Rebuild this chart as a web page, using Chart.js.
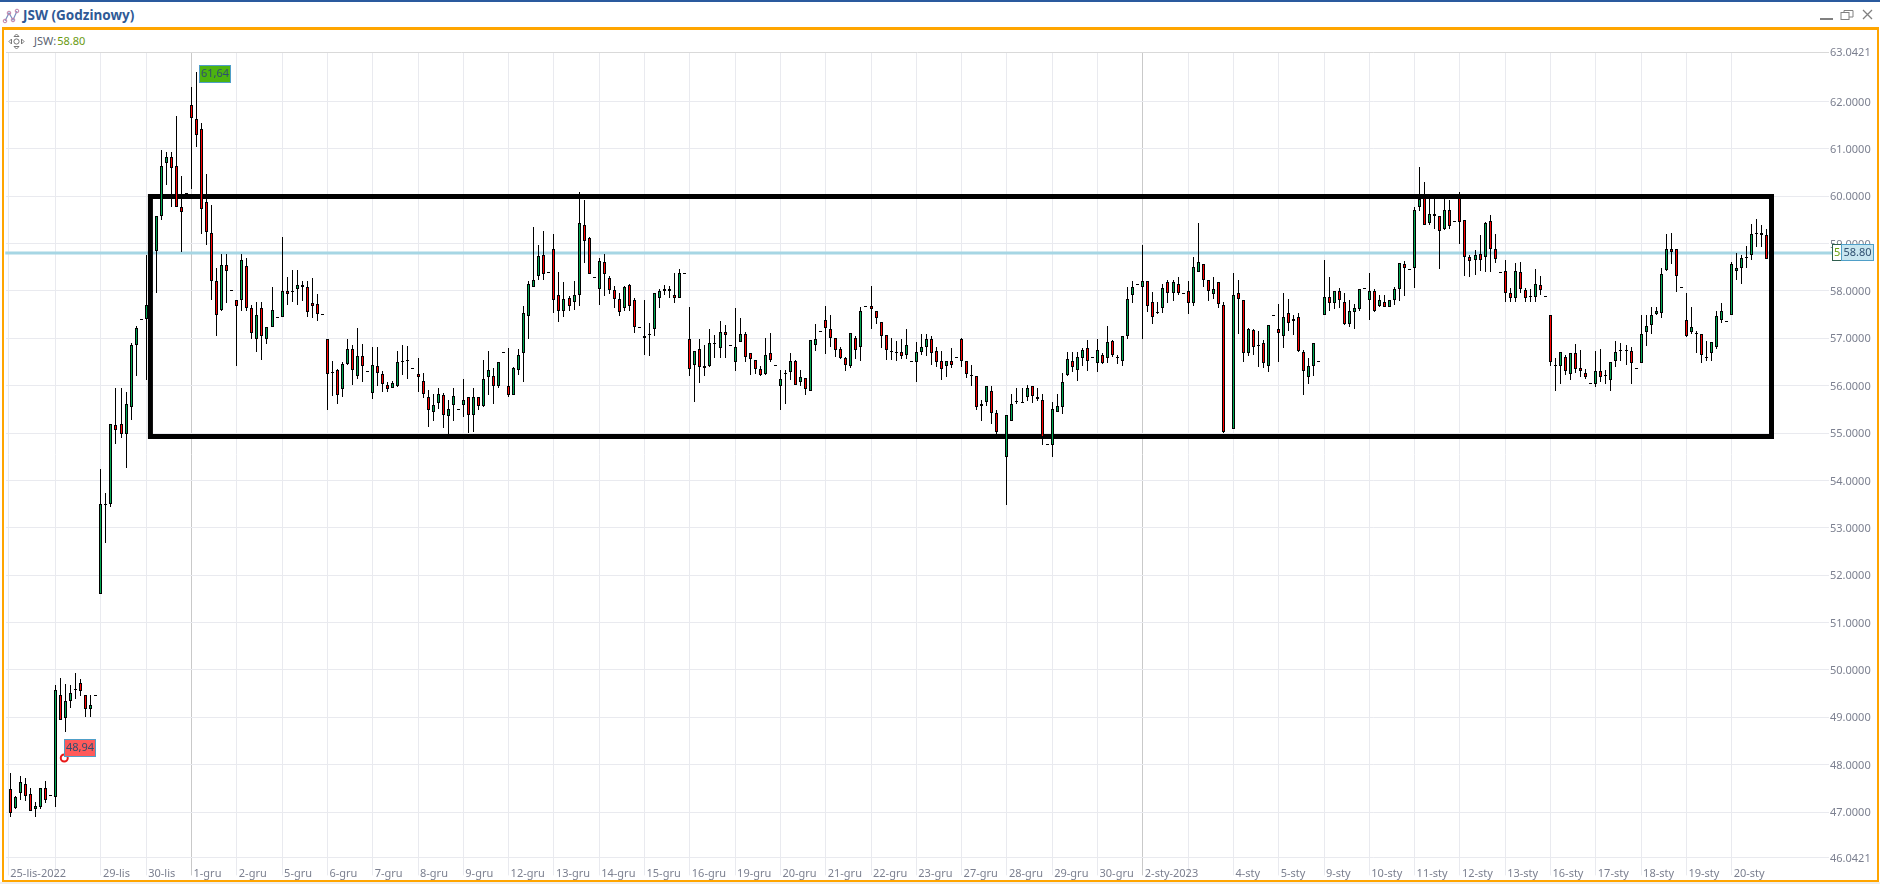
<!DOCTYPE html>
<html><head><meta charset="utf-8">
<script src="https://cdn.jsdelivr.net/npm/chart.js@4/dist/chart.umd.min.js"></script>
<style>
html,body{margin:0;padding:0;width:1880px;height:884px;overflow:hidden;background:#fff;font-family:"Noto Sans",sans-serif}
#topline{position:absolute;left:0;top:0;width:1880px;height:2px;background:#2a5a9e}
#under{position:absolute;left:0;top:882px;width:1880px;height:2px;background:#eeeeee}
#frame{position:absolute;left:2px;top:27px;width:1873px;height:850px;border:solid #ffa500;border-width:3px 2px 2px 2px}
#title{position:absolute;left:23px;top:6px;font:bold 13.5px "Noto Sans",sans-serif;color:#2f5a96;line-height:18px;white-space:nowrap}
#tool{position:absolute;left:34px;top:33px;font:11px "Noto Sans",sans-serif;color:#5a6270;line-height:16px;white-space:nowrap}
#tool span{color:#6a9a10;margin-left:1px}
svg{position:absolute}
canvas{position:absolute;left:0;top:0}
</style></head><body>
<div id="topline"></div><div id="under"></div><div id="frame"></div>
<svg style="left:2px;top:7px" width="18" height="18" viewBox="0 0 18 18" fill="none"><polyline points="3,14 7,6 11,13 15,4" stroke="#7a8fc0" stroke-width="1.2"/><circle cx="3" cy="14" r="1.8" stroke="#c080a8"/><circle cx="7" cy="6" r="1.8" stroke="#c080a8"/><circle cx="11" cy="13" r="1.8" stroke="#c080a8"/><circle cx="15" cy="4" r="1.8" stroke="#c080a8"/></svg>
<div id="title">JSW (Godzinowy)</div>
<svg style="left:8px;top:33px" width="17" height="17" viewBox="0 0 17 17" fill="none" stroke="#777"><circle cx="8.5" cy="8.5" r="2.6"/><path d="M6 3.5L8.5 1L11 3.5ZM6 13.5L8.5 16L11 13.5ZM3.5 6L1 8.5L3.5 11ZM13.5 6L16 8.5L13.5 11Z"/></svg>
<div id="tool">JSW:<span>58.80</span></div>
<svg style="left:1818px;top:8px" width="58" height="14" viewBox="0 0 58 14" fill="none" stroke="#808080"><path d="M2 11H15" stroke-width="2"/><rect x="23" y="4.5" width="8" height="7"/><path d="M26 4.5V2.5H35V9H31"/><path d="M45 2L54 11M54 2L45 11" stroke-width="1.3"/></svg>
<canvas id="c" width="1880" height="884"></canvas>
<script>
const openPrices=[
47.49,47.08,47.41,47.60,47.39,47.06,47.11,47.51,47.35,
47.32,49.48,48.99,49.35,49.60,49.73,49.48,49.18,49.48,
51.60,53.51,53.50,55.17,55.20,54.98,55.55,56.86,57.41,
57.40,58.00,58.85,59.57,60.69,60.82,60.63,59.77,60.06,
61.92,61.63,61.42,59.87,59.22,58.20,57.60,58.54,58.01,
57.80,57.80,58.52,57.63,56.99,57.63,56.99,57.23,57.44,
57.44,57.99,57.99,58.05,58.12,58.08,57.74,57.72,57.51,
56.99,56.29,56.32,55.92,56.46,56.77,56.20,56.62,56.30,
55.85,56.41,56.24,56.01,55.96,56.00,56.51,56.54,56.37,
56.24,56.09,55.75,55.45,55.63,55.81,55.36,55.60,55.51,
55.60,55.75,55.39,55.77,55.58,56.19,56.21,56.00,56.72,
56.00,55.80,56.32,56.68,57.48,58.09,58.32,58.75,58.39,
58.89,57.92,57.58,57.84,57.77,57.92,59.38,59.11,58.30,
58.03,58.60,58.28,58.01,57.82,57.63,58.13,57.80,57.23,
57.00,57.10,57.20,57.86,57.99,58.03,57.92,57.86,58.37,
56.99,56.44,56.78,56.37,56.42,56.89,56.80,57.14,56.85,
56.49,56.93,57.10,56.68,56.55,56.36,56.25,56.68,56.44,
56.00,56.27,56.29,56.53,56.07,56.17,55.89,56.86,57.16,
57.39,57.20,57.01,56.78,56.59,56.42,57.01,56.82,57.69,
57.69,57.58,57.35,57.06,56.74,56.70,56.72,56.65,56.51,
56.49,56.70,56.82,56.99,56.74,56.53,56.42,56.51,56.61,
56.99,56.51,56.23,56.21,55.57,55.65,55.89,55.43,54.98,
54.49,55.25,55.67,55.65,55.76,55.99,55.77,55.70,54.77,
54.75,55.44,55.55,56.23,56.53,56.32,56.58,56.80,56.61,
56.48,56.65,56.59,56.95,56.61,56.51,57.05,57.92,58.15,
58.08,58.20,57.77,57.55,57.63,58.18,57.96,58.15,57.96,
57.99,57.75,58.39,58.56,58.22,57.94,58.18,57.71,54.98,
55.08,57.96,57.80,56.69,57.18,56.85,56.91,56.42,57.50,
57.20,57.05,57.54,57.41,57.44,56.70,56.18,56.42,56.51,
57.50,57.88,57.75,57.99,57.77,57.30,57.56,57.61,58.07,
57.80,57.99,57.69,57.77,57.67,57.80,58.05,58.56,58.47,
58.48,59.78,59.96,59.44,59.62,59.58,59.30,59.70,59.47,
59.96,59.49,58.71,58.65,58.77,58.71,59.47,58.88,58.39,
58.41,57.96,57.86,58.39,58.01,57.89,57.88,58.13,57.90,
57.50,56.44,56.42,56.61,56.25,56.68,56.37,56.27,56.06,
56.04,56.30,56.22,56.12,56.52,56.75,56.75,56.74,56.38,
56.48,57.14,57.29,57.52,57.54,58.45,58.89,58.89,58.09,
57.39,57.14,57.11,57.10,56.61,56.68,56.82,57.39,57.37,
57.50,58.41,58.49,58.72,58.75,59.19,59.17,59.17];
const closePrices=[
46.98,47.32,47.64,47.34,47.02,47.13,47.51,47.26,47.35,
49.57,48.94,49.35,49.52,49.60,49.56,49.18,49.25,49.48,
53.50,53.51,55.20,55.06,54.98,55.61,56.86,57.22,57.41,
57.70,58.00,59.58,60.63,60.82,60.59,59.76,59.66,60.06,
61.64,61.30,59.72,59.25,58.20,57.50,58.54,58.41,58.01,
57.69,58.65,57.63,57.12,57.49,57.04,57.23,57.59,57.44,
57.99,57.94,57.99,58.12,58.08,57.56,57.69,57.51,57.51,
56.24,56.29,55.80,56.46,56.77,56.34,56.62,56.41,56.30,
56.43,56.26,56.03,55.92,56.05,56.49,56.51,56.54,56.37,
56.18,55.82,55.49,55.60,55.82,55.39,55.51,55.79,55.51,
55.70,55.39,55.77,55.58,56.15,56.32,56.00,56.49,56.72,
55.80,56.38,56.65,57.54,58.15,58.22,58.73,58.35,58.39,
57.80,57.58,57.82,57.69,57.92,59.44,59.06,58.35,58.30,
58.64,58.35,58.01,57.82,57.56,58.09,57.69,57.23,57.23,
57.04,57.10,57.96,57.99,58.03,57.99,57.86,58.37,58.37,
56.36,56.74,56.40,56.42,56.89,56.89,57.14,57.06,56.85,
56.82,57.10,56.61,56.57,56.36,56.23,56.65,56.55,56.44,
56.13,56.27,56.53,56.01,56.19,55.92,56.97,56.99,57.16,
57.22,57.01,56.76,56.58,56.44,57.12,56.76,57.58,57.69,
57.62,57.42,57.04,56.76,56.70,56.70,56.63,56.85,56.51,
56.70,56.82,56.99,56.68,56.49,56.36,56.51,56.44,56.61,
56.51,56.25,56.23,55.55,55.62,55.99,55.42,55.02,54.98,
55.39,55.62,55.67,55.65,55.94,55.78,55.71,54.92,54.77,
55.51,55.56,56.08,56.57,56.39,56.61,56.76,56.51,56.61,
56.76,56.48,56.93,56.65,56.61,57.04,57.82,58.09,58.15,
58.20,57.68,57.44,57.55,58.07,57.96,58.18,57.96,57.96,
57.75,58.51,58.60,58.24,57.99,58.03,57.73,55.03,54.98,
57.92,57.83,56.69,57.20,56.82,56.85,56.48,57.29,57.50,
57.11,57.44,57.33,57.37,56.73,56.31,56.42,56.89,56.51,
57.88,57.75,57.99,57.80,57.30,57.58,57.63,58.05,58.07,
57.99,57.58,57.80,57.67,57.80,58.05,58.58,58.49,58.47,
59.70,59.94,59.40,59.62,59.57,59.26,59.70,59.36,59.47,
59.45,58.71,58.63,58.75,58.65,59.43,58.88,58.67,58.39,
57.96,57.85,58.43,58.03,57.86,57.89,58.15,58.01,57.90,
56.50,56.44,56.70,56.31,56.68,56.35,56.31,56.18,56.06,
56.30,56.18,56.22,56.49,56.72,56.75,56.75,56.48,56.38,
57.10,57.25,57.50,57.58,58.35,58.89,58.83,58.32,58.09,
57.05,57.23,57.11,56.65,56.61,56.93,57.48,57.58,57.37,
58.56,58.49,58.70,58.72,59.19,59.23,59.23,58.68];
const highPrices=[
47.82,47.33,47.77,47.71,47.50,47.22,47.51,47.65,47.35,
49.68,49.82,49.71,49.68,49.93,49.80,49.48,49.48,49.48,
54.25,53.73,55.20,55.96,55.94,55.87,56.90,57.25,57.41,
58.76,58.30,59.58,60.98,60.94,60.94,61.70,60.43,60.06,
62.31,62.62,61.54,60.46,59.81,58.48,58.77,58.77,58.01,
57.80,58.77,58.69,57.70,57.76,57.76,57.23,58.08,57.44,
59.13,58.29,58.44,58.44,58.20,58.20,58.27,57.94,57.51,
56.99,56.53,56.35,56.49,56.99,56.86,57.21,56.88,56.30,
56.81,56.81,56.30,56.07,56.09,56.73,56.86,56.84,56.37,
56.58,56.26,55.90,55.82,55.94,55.85,55.69,55.96,55.51,
56.13,55.75,55.94,55.77,56.55,56.74,56.38,56.49,56.72,
56.80,56.40,56.78,57.69,58.20,59.34,58.96,59.27,58.39,
59.19,58.39,58.18,57.90,58.20,60.08,59.91,59.13,58.30,
58.70,58.77,58.32,58.11,57.96,58.11,58.15,57.86,57.23,
57.80,57.33,57.96,58.03,58.13,58.11,58.37,58.47,58.37,
57.65,56.74,56.98,56.85,57.20,57.06,57.37,57.27,56.85,
57.63,57.42,57.14,56.68,56.55,56.42,57.01,57.12,56.44,
56.32,56.32,56.68,56.55,56.32,56.17,56.97,57.30,57.16,
57.69,57.50,57.01,56.82,56.61,57.12,57.04,57.66,57.69,
58.10,57.58,57.35,57.06,57.00,56.95,56.99,57.20,56.51,
56.93,57.10,57.10,57.04,56.82,56.74,56.51,56.80,56.61,
57.01,56.51,56.44,56.21,55.69,56.00,56.00,55.49,54.98,
55.39,55.83,55.96,55.96,56.02,56.00,55.94,55.83,54.77,
55.66,55.82,56.27,56.70,56.70,56.70,56.80,56.97,56.61,
56.99,56.68,57.25,56.96,56.65,57.04,58.09,58.20,58.15,
58.96,58.20,57.97,57.77,58.15,58.24,58.23,58.30,57.96,
58.20,58.71,59.44,58.56,58.24,58.30,58.18,57.77,54.98,
58.37,58.22,57.80,57.21,57.20,57.16,56.97,57.29,57.50,
57.73,57.96,57.82,57.49,57.54,56.76,56.59,56.89,56.51,
58.66,58.30,57.99,58.07,57.96,57.80,57.73,58.05,58.07,
58.37,58.03,57.92,57.92,57.80,58.09,58.58,58.64,58.47,
59.78,60.61,60.30,60.00,59.94,59.58,59.94,59.91,59.47,
60.08,59.49,58.75,58.86,59.18,59.45,59.60,59.20,58.39,
58.66,58.07,58.58,58.60,58.07,58.03,58.47,58.32,57.90,
57.50,56.59,56.70,56.65,56.68,56.87,56.76,56.36,56.06,
56.74,56.78,56.34,56.49,56.95,56.89,56.85,56.81,56.38,
57.50,57.50,57.67,57.67,58.49,59.21,59.23,58.89,58.09,
57.96,57.65,57.16,57.10,56.95,56.93,57.58,57.75,57.37,
58.62,58.81,58.75,58.94,59.42,59.51,59.40,59.30];
const lowPrices=[
46.89,47.07,47.25,47.23,47.02,46.89,47.06,47.19,47.35,
47.11,48.94,48.69,49.20,49.39,49.44,49.00,49.00,49.48,
51.60,52.68,53.43,54.76,54.89,54.27,55.27,56.20,57.41,
56.12,57.70,57.96,59.50,60.24,59.76,59.76,58.83,60.06,
60.16,61.03,59.21,58.97,57.81,57.04,57.58,57.74,58.01,
56.42,57.58,57.58,56.99,56.70,56.55,56.87,57.23,57.44,
57.44,57.70,57.76,57.70,57.79,57.44,57.42,57.37,57.51,
55.49,55.79,55.62,55.77,56.43,56.02,56.15,56.08,56.30,
55.72,56.00,55.86,55.86,55.94,55.98,56.23,56.14,56.37,
55.87,55.74,55.13,55.26,55.50,55.11,54.97,55.25,55.51,
55.34,55.00,55.02,55.49,55.55,55.80,55.62,55.96,56.72,
55.77,55.80,56.23,56.08,56.99,58.08,58.23,58.23,58.39,
57.54,57.35,57.45,57.58,57.60,57.69,58.58,58.35,58.30,
57.70,57.89,57.94,57.63,57.47,57.58,57.58,57.12,57.23,
56.65,56.63,57.05,57.64,57.92,57.84,57.75,57.84,58.37,
56.20,55.65,56.06,56.20,56.40,56.58,56.58,56.58,56.85,
56.31,56.93,56.49,56.23,56.25,56.20,56.23,56.49,56.44,
55.49,55.61,56.12,56.01,55.99,55.80,55.89,56.73,57.16,
56.66,56.81,56.61,56.56,56.31,56.37,56.56,56.52,57.69,
57.20,57.31,56.80,56.54,56.54,56.52,56.57,56.57,56.51,
56.08,56.65,56.63,56.44,56.39,56.12,56.18,56.37,56.61,
56.39,56.16,55.99,55.49,55.25,55.57,55.20,54.97,54.98,
53.47,55.25,55.61,55.63,55.67,55.63,55.68,54.75,54.77,
54.49,55.44,55.40,56.20,56.29,56.10,56.42,56.31,56.61,
56.29,56.46,56.48,56.61,56.46,56.42,56.98,57.75,58.15,
56.98,57.55,57.30,57.52,57.54,57.75,57.79,57.92,57.96,
57.51,57.68,58.39,58.08,57.79,57.82,57.64,54.99,54.98,
55.08,57.09,56.50,56.63,56.65,56.39,56.37,56.29,57.50,
56.50,56.80,57.15,57.07,56.71,55.80,56.03,56.20,56.51,
57.50,57.58,57.62,57.64,57.28,57.24,57.20,57.58,58.07,
57.39,57.56,57.65,57.67,57.67,57.70,57.79,57.89,58.47,
58.06,59.69,59.40,59.40,59.30,58.47,59.29,59.30,59.47,
58.99,58.32,58.30,58.34,58.41,58.39,58.39,58.58,58.39,
57.77,57.77,57.77,57.96,57.77,57.77,57.77,57.92,57.90,
56.42,55.89,56.04,56.23,56.11,56.27,56.18,56.14,56.06,
55.97,56.08,56.03,55.89,56.39,56.52,56.44,56.04,56.38,
56.48,56.84,57.08,57.50,57.43,58.43,58.57,57.98,58.09,
57.03,57.10,56.69,56.48,56.52,56.52,56.78,57.33,57.37,
57.50,58.24,58.15,58.49,58.66,58.92,58.92,58.68];

const dayTicks=[-0.4,9,18,27,36,45,54,63,72,81,90,99,108,117,126,135,144,153,162,171,180,189,198,207,216,225,234,243,252,261,270,279,288,297,306,315,324,333,342];
const dayLabels=["25-lis-2022","","29-lis","30-lis","1-gru","2-gru","5-gru","6-gru","7-gru","8-gru","9-gru","12-gru","13-gru","14-gru","15-gru","16-gru","19-gru","20-gru","21-gru","22-gru","23-gru","27-gru","28-gru","29-gru","30-gru","2-sty-2023","","4-sty","5-sty","9-sty","10-sty","11-sty","12-sty","13-sty","16-sty","17-sty","18-sty","19-sty","20-sty"];
const monthTicks=[36,225];
const priceTicks=[46.0421,47,48,49,50,51,52,53,54,55,56,57,58,59,60,61,62,63.0421];
const lastPrice=58.80;
const rectX=[27.84,349.91];
const rectY=[59.993,54.926];
const lowMarker={x:10.72,y:48.14};
const tags=[{text:"61,64",x:37.53,y:62.77,fill:"#4db30f"},{text:"48,94",x:10.72,y:48.55,fill:"#ff5a5a"}];

const GREEN="#00a651",RED="#ff0000",BLACK="#000000";
const bodyColors=openPrices.map((o,i)=>closePrices[i]>o?GREEN:(closePrices[i]<o?RED:BLACK));
Chart.defaults.font.family='"Noto Sans",sans-serif';
Chart.defaults.font.size=11;

const PRICE=0,RECT=1,WICK=2,BODY=3,MARK=4;
const snap={id:'snap',afterDatasetsUpdate(chart){
  chart.getSortedVisibleDatasetMetas().forEach(m=>{
    if(m.type!=='bar')return;
    m.data.forEach(el=>{
      el.x=Math.floor(el.x)+0.5;
      el.y=Math.round(el.y);el.base=Math.round(el.base);
      if(m.index===BODY&&el.y===el.base)el.base=el.y+1;
    });
  });
}};
const overlay={id:'overlay',afterDraw(chart){
  const c=chart.ctx,xs=chart.scales.x,ys=chart.scales.y;
  c.save();
  c.font='11px "Noto Sans",sans-serif';c.textBaseline='middle';
  tags.forEach(t=>{
    const l=Math.round(xs.getPixelForValue(t.x)),u=Math.round(ys.getPixelForValue(t.y));
    c.fillStyle=t.fill;c.fillRect(l,u,32,18);
    c.strokeStyle='#4f9fc8';c.lineWidth=1;c.strokeRect(l+.5,u+.5,31,17);
    c.fillStyle='#2f4f6f';c.textAlign='center';c.fillText(t.text,l+16,u+9);
  });
  const py=Math.round(ys.getPixelForValue(lastPrice));
  c.fillStyle='#fff';c.fillRect(1832,py-9,10,17);
  c.strokeStyle='#2f5f4f';c.strokeRect(1832.5,py-8.5,10,16);
  c.save();c.beginPath();c.rect(1833,py-8,8,15);c.clip();
  c.fillStyle='#6aa010';c.textAlign='left';c.fillText(lastPrice.toFixed(2),1834,py);c.restore();
  c.fillStyle='#c8e6f0';c.fillRect(1841,py-9,33,17);
  c.strokeStyle='#4f9fc8';c.strokeRect(1841.5,py-8.5,32,16);
  c.fillStyle='#2f4f6f';c.textAlign='center';c.fillText(lastPrice.toFixed(2),1857.5,py);
  c.restore();
}};
new Chart(document.getElementById('c'),{
  data:{datasets:[
   {type:'line',data:[{x:-1,y:lastPrice},{x:362,y:lastPrice}],borderColor:'#a6d6e4',borderWidth:3,pointRadius:0,clip:false,order:5},
   {type:'line',data:[{x:rectX[0],y:rectY[0]},{x:rectX[1],y:rectY[0]},{x:rectX[1],y:rectY[1]},{x:rectX[0],y:rectY[1]},{x:rectX[0],y:rectY[0]},{x:rectX[1],y:rectY[0]}],borderColor:'#000',borderWidth:5,borderJoinStyle:'miter',pointRadius:0,tension:0,order:4},
   {type:'bar',data:lowPrices.map((l,i)=>({x:i,y:[l,highPrices[i]]})),backgroundColor:'#000',borderWidth:0,barThickness:1,grouped:false,inflateAmount:0,order:3},
   {type:'bar',data:openPrices.map((o,i)=>({x:i,y:[o,closePrices[i]]})),backgroundColor:bodyColors,borderColor:'#000',borderWidth:1,borderSkipped:false,barThickness:3,grouped:false,inflateAmount:0,order:2},
   {type:'scatter',data:[lowMarker],pointRadius:3.5,pointBorderWidth:2,pointBorderColor:'#e81818',pointBackgroundColor:'#fff',showLine:false,order:1}
  ]},
  plugins:[snap,overlay],
  options:{
    responsive:false,animation:false,devicePixelRatio:1,
    layout:{padding:{left:5,top:52,right:0,bottom:0}},
    plugins:{legend:{display:false},tooltip:{enabled:false}},
    events:[],
    scales:{
      x:{type:'linear',min:-0.854,max:361.33,offset:false,
        afterBuildTicks(s){s.ticks=dayTicks.map(v=>({value:v}));},
        afterFit(s){s.height=26.6;},
        border:{display:false},
        grid:{offset:false,tickLength:18,lineWidth:1,
          color:ctx=>monthTicks.includes(ctx.tick&&ctx.tick.value)?'#c9c9c9':'#e9eaef',
          tickColor:ctx=>monthTicks.includes(ctx.tick&&ctx.tick.value)?'#c9c9c9':'#e9eaef'},
        ticks:{autoSkip:false,maxRotation:0,minRotation:0,align:'start',labelOffset:2,padding:-8,color:'#7c8090',font:{size:11},
          callback:(v,i)=>dayLabels[i]}
      },
      y:{type:'linear',position:'right',min:46.0421,max:63.0421,
        afterBuildTicks(s){s.ticks=priceTicks.map(v=>({value:v}));},
        afterFit(s){s.width=51;},
        border:{display:false},
        grid:{drawTicks:false,lineWidth:1,color:ctx=>{const v=ctx.tick&&ctx.tick.value;return v===63.0421?'#d9d9d9':'#e9eaef';}},
        ticks:{padding:1,labelOffset:1,color:'#7c8090',font:{size:11},callback:v=>v.toFixed(4)}
      }
    }
  }
});
</script>
</body></html>
